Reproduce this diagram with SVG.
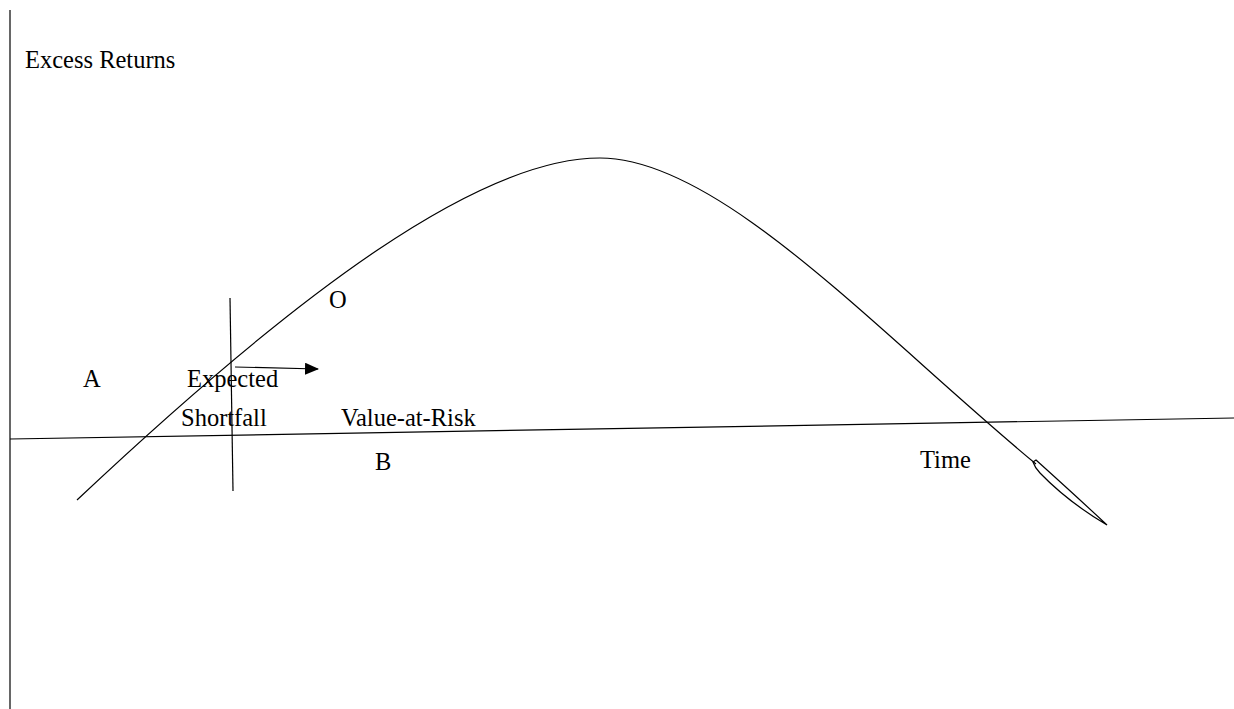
<svg xmlns="http://www.w3.org/2000/svg" width="1234" height="709" viewBox="0 0 1234 709">
<defs>
<style>
.ln{fill:none;stroke:#000;stroke-width:1.2}
text{font-family:"Liberation Serif","Times New Roman",serif;font-size:24.5px;fill:#000}
</style>
<marker id="ah" markerWidth="14" markerHeight="12" refX="13" refY="6" orient="auto" markerUnits="userSpaceOnUse" viewBox="0 0 14 12">
<path d="M0,0 L14,6 L0,12 Z" fill="#000"/>
</marker>
</defs>
<rect width="1234" height="709" fill="#fff"/>
<g id="connectors">
<line class="ln" x1="10" y1="10" x2="10" y2="709"/>
<line class="ln" x1="10" y1="439" x2="1234" y2="418"/>
<line class="ln" x1="230" y1="298" x2="233" y2="491"/>
<path class="ln" d="M77,500 C300,290 480,158 600,158 C720,158 880,335 1036,464"/>
<path class="ln" d="M1033,462 L1036,460 Q1076,496 1107,525 Q1068,502 1040,473 Q1035,468 1033,462 Z"/>
<line class="ln" x1="235" y1="367" x2="318" y2="369" marker-end="url(#ah)"/>
</g>
<g id="label-excess"><text x="25" y="68">Excess Returns</text></g>
<g id="label-o"><text x="329" y="308">O</text></g>
<g id="label-a"><text x="83" y="387">A</text></g>
<g id="label-expected"><text x="187" y="387">Expected</text></g>
<g id="label-shortfall"><text x="181" y="426">Shortfall</text></g>
<g id="label-var"><text x="341" y="426">Value-at-Risk</text></g>
<g id="label-b"><text x="375" y="470">B</text></g>
<g id="label-time"><text x="920" y="468">Time</text></g>
</svg>
